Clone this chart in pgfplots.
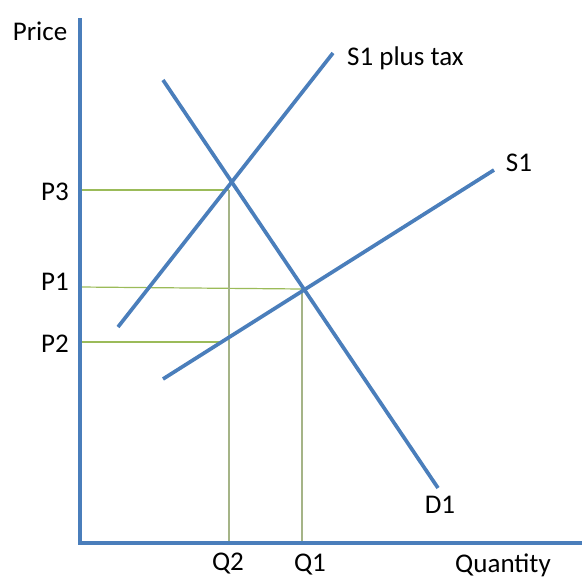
\documentclass[border=0pt]{standalone}
\usepackage{pgfplots}
\pgfplotsset{compat=1.18}
\usepackage{fontspec}
\setmainfont{Carlito}
\definecolor{lblue}{RGB}{74,126,187}
\definecolor{lgreen}{RGB}{155,187,89}
\definecolor{lgray}{RGB}{165,180,135}
\begin{document}
\begin{tikzpicture}
\begin{axis}[scale only axis, width=582pt, height=579pt,
  xmin=0, xmax=582, ymin=0, ymax=579, y dir=reverse, hide axis,
  clip=false]
% guide lines
\addplot[lgreen, line width=1.2pt] coordinates {(80,190) (229,190)};
\addplot[lgreen, line width=1.2pt] coordinates {(80,287) (302,289)};
\addplot[lgreen, line width=1.2pt] coordinates {(80,342) (222,342)};
\addplot[lgray, line width=1.2pt] coordinates {(229,190) (229,543)};
\addplot[lgray, line width=1.2pt] coordinates {(302,289) (302,543)};
% axes
\addplot[lblue, line width=3.7pt] coordinates {(80,18) (80,543) (582,543)};
% curves
\addplot[lblue, line width=3.7pt] coordinates {(163,80) (438,488)};
\addplot[lblue, line width=3.7pt] coordinates {(118,327) (333,53)};
\addplot[lblue, line width=3.7pt] coordinates {(163,379) (494,170)};
% labels
\begin{scope}[every node/.style={font=\fontsize{27}{30}\selectfont, inner sep=0pt}]
\node at (axis cs:40,31) {Price};
\node at (axis cs:55,192) {P3};
\node at (axis cs:55,282) {P1};
\node at (axis cs:55,344) {P2};
\node[anchor=west] at (axis cs:347,58) {S1 plus tax};
\node at (axis cs:519,163) {S1};
\node at (axis cs:440,505) {D1};
\node at (axis cs:228,564) {Q2};
\node at (axis cs:310,565) {Q1};
\node at (axis cs:503,565) {Quantity};
\end{scope}
\end{axis}
\pgfresetboundingbox
\path (current axis.south west) rectangle (current axis.north east);
\end{tikzpicture}
\end{document}
